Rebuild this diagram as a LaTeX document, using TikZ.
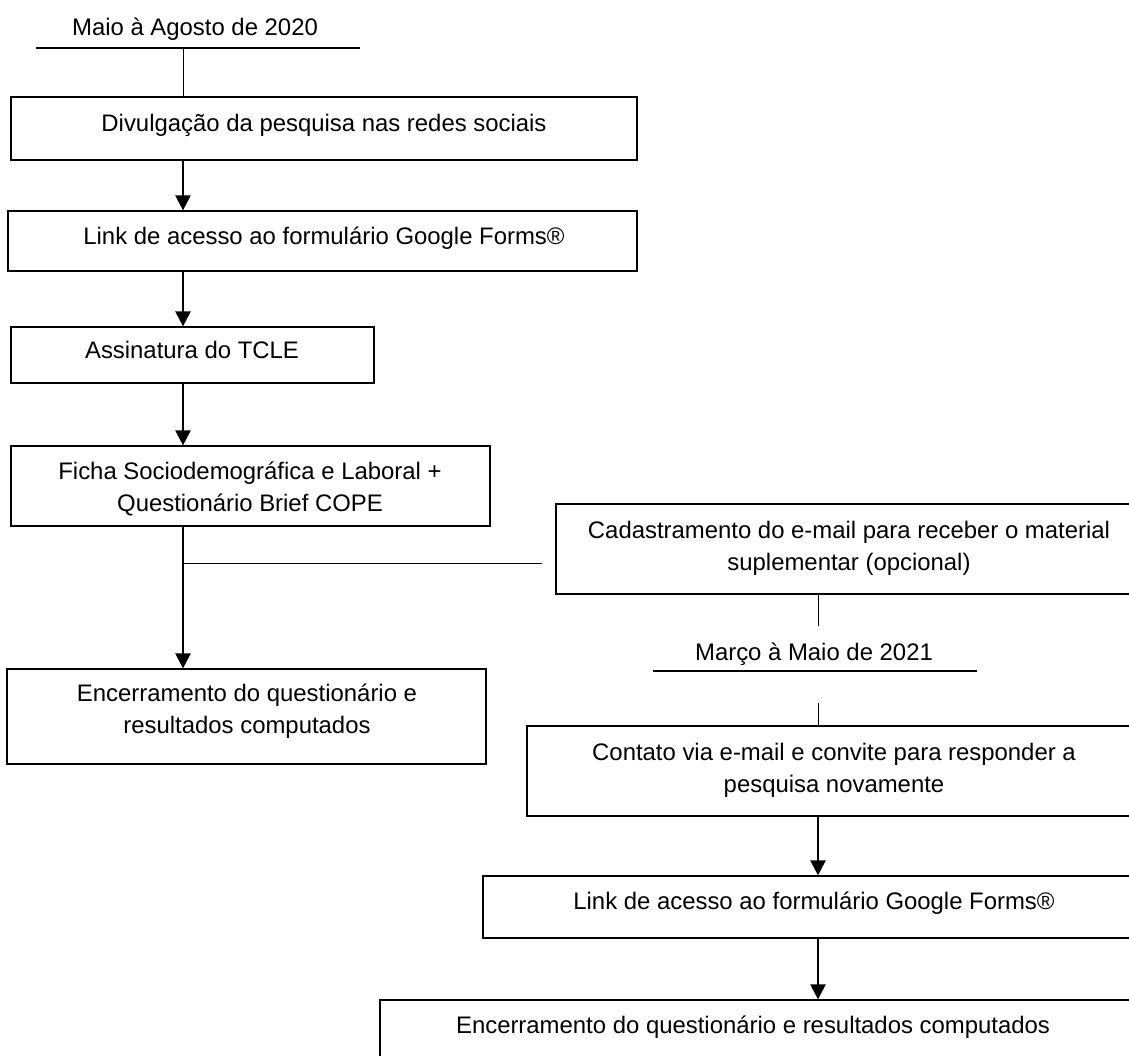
\documentclass[tikz,border=0pt]{standalone}
\usepackage{fontspec}
\setmainfont{Liberation Sans}
\usetikzlibrary{arrows.meta}
\newcommand\tstrut{\rule{0pt}{20pt}}
\begin{document}
\begin{tikzpicture}[x=1pt,y=-1pt,
  box/.style={draw, line width=1.2pt, inner sep=0pt, rectangle},
  txt/.style={inner sep=0pt, align=center, anchor=north, font=\fontsize{23.9}{32.5}\selectfont},
  arr/.style={line width=2.2pt, -{Triangle[length=15pt,width=15pt]}},
  thin/.style={line width=1pt},
  uline/.style={line width=2.2pt}]
\useasboundingbox (0,0) rectangle (1129,1055);
\clip (0,0) rectangle (1129,1055);
\fill[white] (0,0) rectangle (1129,1055);

% spine coordinates
\coordinate (sp) at (183,0);
\coordinate (sp2) at (818,0);

% boxes
\node[box, minimum width=626pt, minimum height=63pt] (B1) at (324,128.5) {};
\node[box, minimum width=629pt, minimum height=60pt] (B2) at (322.5,241) {};
\node[box, minimum width=363pt, minimum height=56pt] (B3) at (192.5,355) {};
\node[box, minimum width=479pt, minimum height=80pt] (B4) at (250.5,486) {};
\node[box, minimum width=600pt, minimum height=90pt] (B5) at (856,549) {};
\node[box, minimum width=479pt, minimum height=95pt] (B6) at (246.5,716.5) {};
\node[box, minimum width=630pt, minimum height=90pt] (B7) at (842,771) {};
\node[box, minimum width=670pt, minimum height=62pt] (B8) at (818,907) {};
\node[box, minimum width=780pt, minimum height=80pt] (B9) at (770,1040) {};

% texts
\node[txt] (T0) at (195,15) {\tstrut Maio à Agosto de 2020};
\node[txt] (T1) at (324,111) {\tstrut Divulgação da pesquisa nas redes sociais};
\node[txt] (T2) at (324,224) {\tstrut Link de acesso ao formulário Google Forms®};
\node[txt] (T3) at (192,338) {\tstrut Assinatura do TCLE};
\node[txt] (T4) at (250,459) {\tstrut Ficha Sociodemográfica e Laboral +\\Questionário Brief COPE};
\node[txt] (T5) at (849,518) {\tstrut Cadastramento do e-mail para receber o material\\suplementar (opcional)};
\node[txt] (T6) at (247,681) {\tstrut Encerramento do questionário e\\resultados computados};
\node[txt] (TM) at (814,640) {\tstrut Março à Maio de 2021};
\node[txt] (T7) at (834,740) {\tstrut Contato via e-mail e convite para responder a\\pesquisa novamente};
\node[txt] (T8) at (814,889) {\tstrut Link de acesso ao formulário Google Forms®};
\node[txt] (T9) at (753,1013) {\tstrut Encerramento do questionário e resultados computados};

% top period line
\coordinate (u1a) at (36,48);
\coordinate (u1b) at (360,48);
\draw[uline] (u1a) -- (u1b);
\draw[thin] (sp |- u1a) -- (B1.north -| sp);

% left column arrows
\draw[arr] (B1.south -| sp) -- (B2.north -| sp);
\draw[arr] (B2.south -| sp) -- (B3.north -| sp);
\draw[arr] (B3.south -| sp) -- (B4.north -| sp);
\draw[arr] (B4.south -| sp) -- (B6.north -| sp);

% branch to optional e-mail
\coordinate (j1) at (183,563);
\draw[thin, shorten >=13pt] (j1) -- (j1 -| B5.west);

% second period
\coordinate (m1) at (818,626);
\draw[thin] (B5.south -| sp2) -- (m1);
\coordinate (u2a) at (653,671);
\coordinate (u2b) at (977,671);
\draw[uline] (u2a) -- (u2b);
\coordinate (m2) at (818,703);
\draw[thin] (m2) -- (B7.north -| sp2);

% right column arrows
\draw[arr] (B7.south -| sp2) -- (B8.north -| sp2);
\draw[arr] (B8.south -| sp2) -- (B9.north -| sp2);
\end{tikzpicture}
\end{document}
